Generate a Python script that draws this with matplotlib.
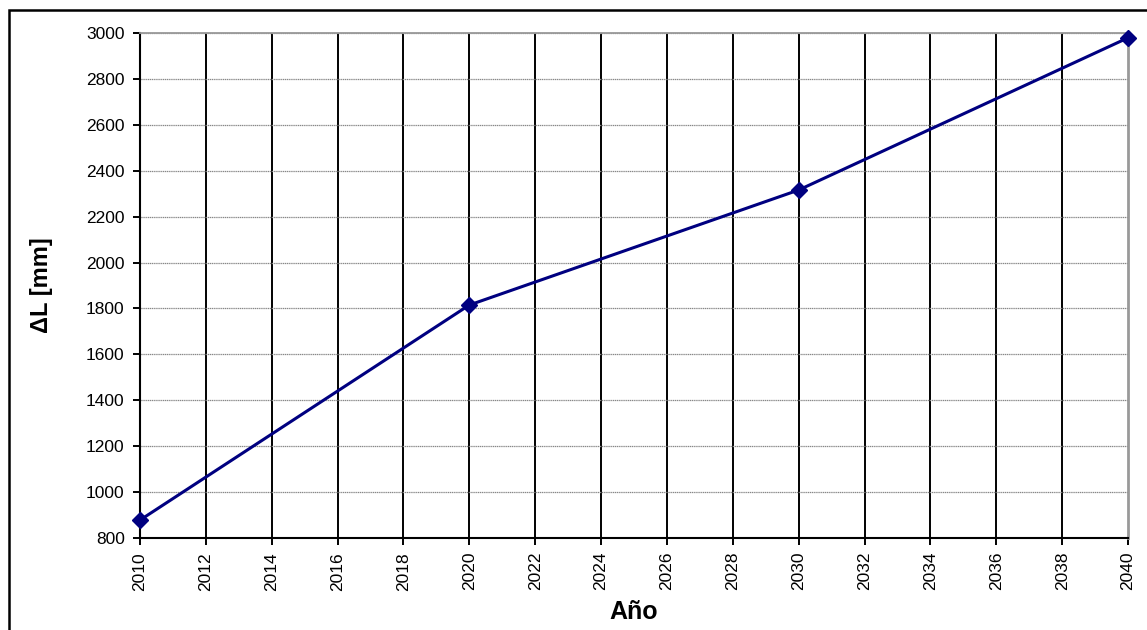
import matplotlib.pyplot as plt
from matplotlib.patches import Rectangle

plt.rcParams["font.family"] = ["Liberation Sans", "DejaVu Sans"]

# data
years = [2010, 2020, 2030, 2040]
delta_l = [878, 1815, 2316, 2979]

x_ticks = list(range(2010, 2041, 2))
y_ticks = list(range(800, 3001, 200))

fig = plt.figure(figsize=(11.47, 6.30), dpi=100)
ax = fig.add_axes([140 / 1147, 1 - 538 / 630, (1128 - 140) / 1147, (538 - 33) / 630])

# vertical grid black, horizontal grid thin gray dotted
for x in x_ticks[:-1]:
    ax.axvline(x, color="black", lw=1.4, zorder=1)
for y in y_ticks:
    ax.axhline(y, color="#888888", lw=0.9, ls=(0, (1, 0.5)), zorder=1)

ax.plot(years, delta_l, color="#000080", lw=2.2, marker="D", ms=8.5,
        markerfacecolor="#000080", markeredgecolor="#000080", zorder=3, clip_on=False)

ax.set_xlim(2010, 2040)
ax.set_ylim(800, 3000)
ax.set_xticks(x_ticks)
ax.set_xticklabels([str(x) for x in x_ticks], rotation=90)
ax.set_yticks(y_ticks)
ax.tick_params(direction="out", length=5, width=1.4, labelsize=12.5)
ax.tick_params(axis="y", pad=6)
ax.tick_params(axis="x", pad=5)

ax.spines["left"].set_linewidth(1.5)
ax.spines["bottom"].set_linewidth(1.5)
ax.spines["right"].set_color("#999999")
ax.spines["right"].set_linewidth(2)
ax.spines["top"].set_color("#999999")
ax.spines["top"].set_linewidth(1.3)

ax.set_xlabel("Año", fontsize=18, fontweight="bold", labelpad=7)
ax.set_ylabel("ΔL [mm]", fontsize=17, fontweight="bold", labelpad=24)

# outer chart border (only top and left visible in the crop)
fig.patches.append(Rectangle((9 / 1147, -0.02), 1.05, 1 - 10 / 630 + 0.02,
                             transform=fig.transFigure, fill=False,
                             edgecolor="black", lw=1.8))

fig.savefig("out.png", dpi=100)
